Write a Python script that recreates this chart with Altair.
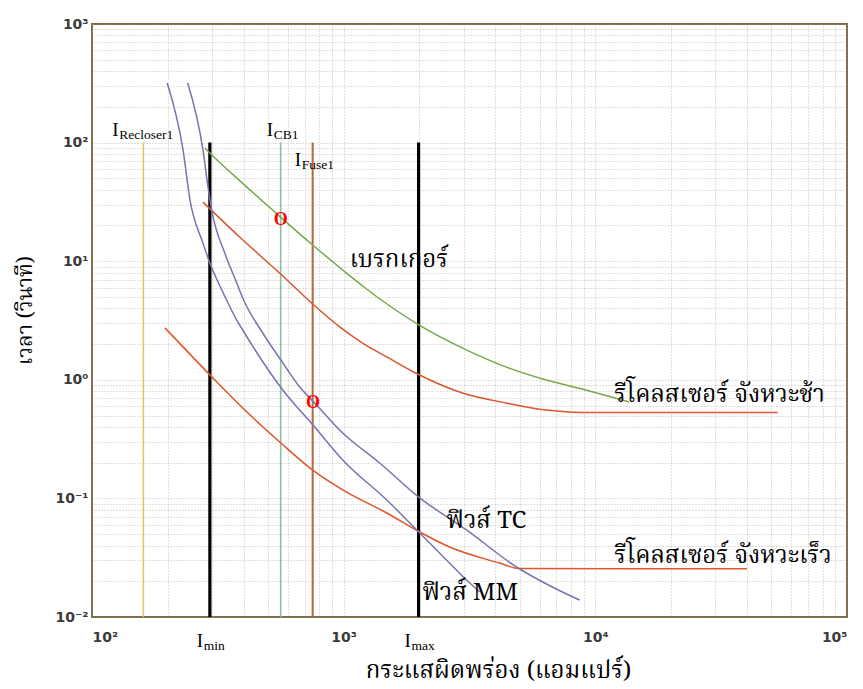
import altair as alt
import pandas as pd

# ---------------- data ----------------
# breaker (green)
brk_I = [281, 294, 408, 567, 753, 991, 1189, 1966, 2967, 4431, 6392, 9462, 13640]
brk_t = [90.0, 81.7, 43.0, 23.1, 13.7, 8.43, 6.18, 2.95, 1.85, 1.28, 0.995, 0.805, 0.650]
# recloser slow (red)
slow_I = [276, 386, 567, 753, 964, 1189, 1483, 1966, 2967, 4431, 6392, 8870, 53000]
slow_t = [31.5, 16.0, 7.66, 4.36, 2.79, 2.04, 1.56, 1.12, 0.774, 0.637, 0.556, 0.53, 0.53]
# recloser fast (red)
fast_I = [195, 294, 397, 557, 753, 991, 1483, 2005, 2636, 4159, 4990, 40000]
fast_t = [2.74, 1.10, 0.578, 0.299, 0.173, 0.118, 0.0753, 0.0521, 0.0389, 0.0285, 0.0256, 0.0255]
# fuse TC (purple)
tc_I = [240, 276, 289, 299, 337, 376, 397, 477, 573, 669, 767, 991, 1390, 2005, 3077, 4862, 6745, 8650]
tc_t = [318, 86.7, 42.3, 27.0, 11.7, 6.55, 4.90, 2.48, 1.39, 0.869, 0.637, 0.356, 0.199, 0.101, 0.0542, 0.0264, 0.0179, 0.0139]
# fuse MM (purple)
mm_I = [199, 230, 245, 276, 294, 328, 376, 397, 573, 767, 991, 1483, 2005, 2404, 3077, 3467]
mm_t = [318, 86.7, 33.0, 14.2, 9.66, 5.72, 3.19, 2.63, 0.820, 0.400, 0.211, 0.097, 0.0511, 0.0347, 0.0205, 0.0163]

# vertical current markers
vl_names = ["Recloser1", "min", "CB1", "Fuse1", "max"]
vl_I = [160, 294, 562, 753, 1985]
vl_lo = [0.01, 0.01, 0.01, 0.01, 0.01]
vl_hi = [100, 100, 100, 100, 100]
vl_colors = ["#e6c466", "#000000", "#86c2a0", "#b8643e", "#000000"]
vl_widths = [1.6, 3.2, 1.6, 2.0, 3.2]

# red "O" operating points
op_I = [562, 755]
op_t = [22.2, 0.637]

# curve labels
lab_text = ["เบรกเกอร์", "รีโคลสเซอร์ จังหวะช้า", "ฟิวส์ TC", "รีโคลสเซอร์ จังหวะเร็ว", "ฟิวส์ MM"]
lab_I = [1057, 11890, 2564, 11890, 2056]
lab_t = [8.93, 0.650, 0.0562, 0.0285, 0.0139]

# current labels: "I" with subscript, anchored at the marker line
sub_text = ["Recloser1", "CB1", "Fuse1", "min", "max"]
sub_I = [160, 562, 753, 294, 1985]
sub_t = [100, 100, 100, 0.01, 0.01]
main_dx = [-31, -14, -18, -13, -14]
main_dy = [-7, -7, 23, 30, 30]

x_ticks = [m * 10 ** e for e in range(2, 5) for m in range(1, 10)] + [100000]
y_ticks = [m * 10.0 ** e for e in range(-2, 3) for m in range(1, 10)] + [1000.0]
x_sup = {2: "10²", 3: "10³", 4: "10⁴", 5: "10⁵"}
y_sup = {-2: "10⁻²", -1: "10⁻¹", 0: "10⁰", 1: "10¹", 2: "10²", 3: "10³"}


def label_expr(mapping):
    s = ""
    for e, txt in mapping.items():
        s += f"round(log(datum.value)/LN10*1000)=={e * 1000} ? '{txt}' : "
    return s + "''"


# ---------------- tables ----------------
rows = []
for name, xs, ys in [("brk", brk_I, brk_t), ("slow", slow_I, slow_t), ("fast", fast_I, fast_t),
                     ("tc", tc_I, tc_t), ("mm", mm_I, mm_t)]:
    for i, (a, b) in enumerate(zip(xs, ys)):
        rows.append({"series": name, "I": a, "t": b, "o": i})
curves = pd.DataFrame(rows)

vlines = pd.DataFrame({"name": vl_names, "I": vl_I, "lo": vl_lo, "hi": vl_hi,
                       "c": vl_colors, "w": vl_widths})
ops = pd.DataFrame({"I": op_I, "t": op_t})
labels = pd.DataFrame({"text": lab_text, "I": lab_I, "t": lab_t})

THAI = "Noto Serif Thai, Noto Sans Thai, Garuda, Loma, Tlwg Typo, serif"
SERIF = "Liberation Serif, Times New Roman, serif"

common = dict(grid=True, gridDash=[1, 2], gridColor="#9a9a8a", gridOpacity=0.6,
              ticks=False, domain=False, labelFont="DejaVu Sans", labelFontSize=14,
              labelFontWeight="bold", labelColor="#3a3a3a", labelOverlap=False,
              titleFont=THAI, titleFontWeight="normal", titleColor="#000")
x_axis = alt.Axis(values=x_ticks, labelExpr=label_expr(x_sup), title="กระแสผิดพร่อง (แอมแปร์)",
                  labelPadding=13, titleFontSize=24, titlePadding=14, titleX=406, **common)
y_axis = alt.Axis(values=y_ticks, labelExpr=label_expr(y_sup), title="เวลา (วินาที)",
                  labelPadding=4, titleFontSize=21, titlePadding=19, titleY=286, **common)

xs_ = alt.Scale(type="log", domain=[100, 100000], nice=False)
ys_ = alt.Scale(type="log", domain=[0.01, 1000], nice=False)
X = alt.X("I:Q", scale=xs_, axis=x_axis)
Y = alt.Y("t:Q", scale=ys_, axis=y_axis)

rules = alt.Chart(vlines).mark_rule().encode(
    x=X, y=alt.Y("lo:Q", scale=ys_, axis=y_axis), y2="hi:Q",
    color=alt.Color("c:N", scale=None), strokeWidth=alt.StrokeWidth("w:Q", scale=None))

lines = alt.Chart(curves).mark_line(strokeWidth=1.5, interpolate="monotone").encode(
    x=X, y=Y, order="o:Q",
    color=alt.Color("series:N", scale=alt.Scale(domain=["brk", "slow", "fast", "tc", "mm"],
                                                range=["#77a84a", "#d9562f", "#e0552a", "#7b72b0", "#7b72b0"]),
                    legend=None))

opm = alt.Chart(ops).mark_text(text="O", font=SERIF, fontSize=18, fontWeight="bold", color="#ff0000",
                               align="center", baseline="middle").encode(x=X, y=Y)

labs = alt.Chart(labels).mark_text(font=THAI, fontSize=24, align="left", baseline="alphabetic",
                                   color="#000").encode(x=X, y=Y, text="text:N")

layers = [rules, lines, opm, labs]
for s, a, b, dx, dy in zip(sub_text, sub_I, sub_t, main_dx, main_dy):
    d = pd.DataFrame({"I": [a], "t": [b], "s": [s]})
    layers.append(alt.Chart(d).mark_text(text="I", font=SERIF, fontSize=19, align="left",
                                         baseline="alphabetic", color="#000", dx=dx, dy=dy)
                  .encode(x=X, y=Y))
    layers.append(alt.Chart(d).mark_text(font=SERIF, fontSize=13.5, align="left",
                                         baseline="alphabetic", color="#000", dx=dx + 7, dy=dy + 3)
                  .encode(x=X, y=Y, text="s:N"))

chart = alt.layer(*layers).properties(
    width=755, height=593,
    autosize=alt.AutoSizeParams(type="none"),
    padding={"left": 92, "top": 24, "right": 16, "bottom": 72},
    background="white"
).configure_view(stroke="#7d6c45", strokeWidth=2)

chart.save("out.html", embed_options={"renderer": "svg", "actions": False})
